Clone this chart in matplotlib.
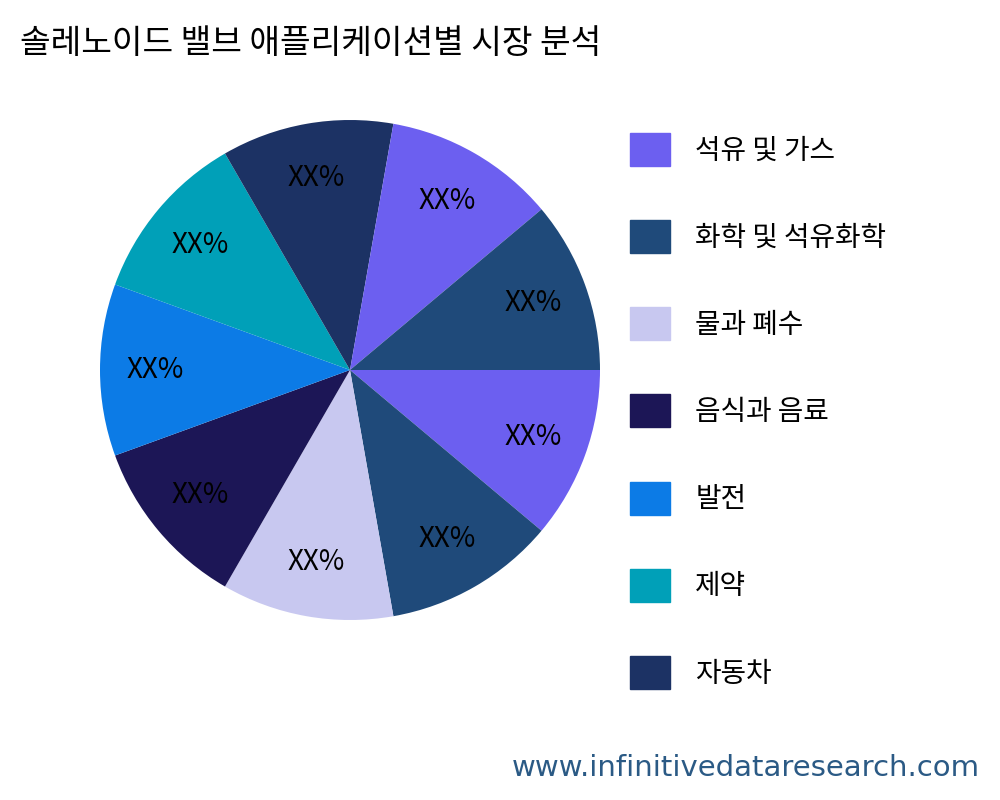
import matplotlib
matplotlib.use("Agg")
import matplotlib.pyplot as plt
from matplotlib.patches import Patch

plt.rcParams['font.family'] = ['Noto Sans CJK KR', 'DejaVu Sans']

legend_labels = ["석유 및 가스", "화학 및 석유화학", "물과 폐수", "음식과 음료", "발전", "제약", "자동차"]
values = [1, 1, 1, 1, 1, 1, 1, 1, 1]
colors = ["#6c5ff0", "#1f4a7a", "#c8c8f0", "#1c1656", "#0c7be6", "#00a0b8", "#1c3264"]
slice_colors = [colors[i % len(colors)] for i in range(len(values))]

fig = plt.figure(figsize=(10, 8), dpi=100)
ax = fig.add_axes([0.10, 0.225, 0.50, 0.625])
wedges, texts = ax.pie(values, colors=slice_colors, startangle=0, counterclock=False,
                       labels=["XX%"] * len(values), labeldistance=0.78,
                       textprops=dict(fontsize=20, color="black", ha="center", va="center"))
ax.set_xlim(-1, 1)
ax.set_ylim(-1, 1)
ax.set_aspect("equal")

fig.text(0.02, 0.945, "솔레노이드 밸브 애플리케이션별 시장 분석", fontsize=24, va="center", ha="left")

handles = [Patch(color=c) for c in colors]
fig.legend(handles, legend_labels, loc="upper left", bbox_to_anchor=(0.605, 0.865),
           frameon=False, fontsize=20, handlelength=1.45, handleheight=1.45,
           labelspacing=1.95, handletextpad=0.9)

fig.text(0.98, 0.04, "www.infinitivedataresearch.com", fontsize=21, color="#2b5a85",
         ha="right", va="center", family=["DejaVu Sans"])

fig.savefig("out.png")
